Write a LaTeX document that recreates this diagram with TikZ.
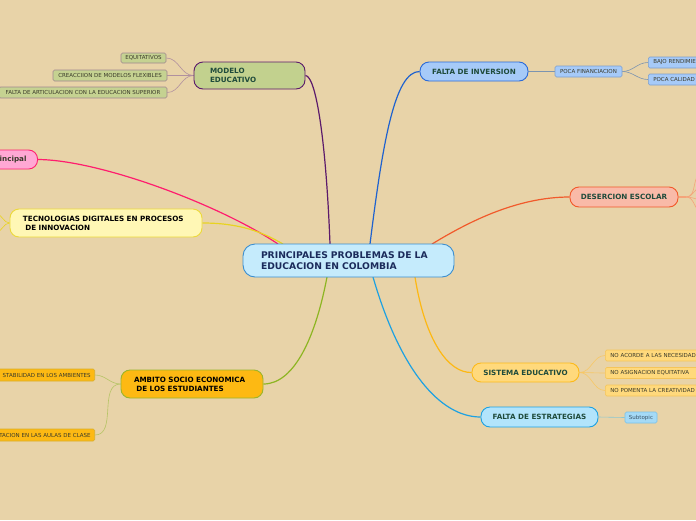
\documentclass[tikz,border=0pt]{standalone}
\usepackage{fontspec}
\setmainfont{DejaVu Sans}
\definecolor{bg}{HTML}{E8D3A8}
\definecolor{tgreen}{HTML}{1F4B3B}
\definecolor{tnavy}{HTML}{1B2B5B}
\definecolor{subtext}{HTML}{3A3A2A}
\definecolor{cfill}{HTML}{C5EBFC}\definecolor{cdraw}{HTML}{3B8ED0}
\definecolor{mfill}{HTML}{C2D18E}\definecolor{mdraw}{HTML}{5B1A6B}
\definecolor{msfill}{HTML}{C5D291}\definecolor{msdraw}{HTML}{A08890}\definecolor{msline}{HTML}{B0909F}
\definecolor{ifill}{HTML}{A6CAF8}\definecolor{idraw}{HTML}{2A6AD8}\definecolor{iline}{HTML}{1F62CF}
\definecolor{isdraw}{HTML}{7E9FCB}\definecolor{isline}{HTML}{7C94B0}
\definecolor{pfill}{HTML}{FFA8D4}\definecolor{pdraw}{HTML}{FF2070}\definecolor{pline}{HTML}{FF1D6E}
\definecolor{tfill}{HTML}{FFF7B5}\definecolor{tdraw}{HTML}{ECD93A}\definecolor{tline}{HTML}{E8D321}
\definecolor{dfill}{HTML}{F9BAA8}\definecolor{ddraw}{HTML}{F2592A}\definecolor{dline}{HTML}{F15A2B}\definecolor{dsline}{HTML}{F5A47A}
\definecolor{afill}{HTML}{FDB913}\definecolor{adraw}{HTML}{9BB52A}\definecolor{aline}{HTML}{8DB522}
\definecolor{asdraw}{HTML}{D8AF2A}\definecolor{asline}{HTML}{B6C466}
\definecolor{sfill}{HTML}{FFD97C}\definecolor{sdraw}{HTML}{FDBA1A}\definecolor{sline}{HTML}{FDB813}
\definecolor{ssdraw}{HTML}{F5C559}\definecolor{ssline}{HTML}{F7C766}
\definecolor{efill}{HTML}{B2E4FB}\definecolor{edraw}{HTML}{1DA1E2}\definecolor{eline}{HTML}{1DA1E2}
\definecolor{esfill}{HTML}{A5DAF6}\definecolor{esdraw}{HTML}{78C1E8}\definecolor{esline}{HTML}{8CC8D0}
\definecolor{esttext}{HTML}{3A5468}
\pgfdeclarelayer{back}
\pgfdeclarelayer{lines}
\pgfsetlayers{back,lines,main}
\begin{document}
\begin{tikzpicture}[x=1pt,y=-1pt,
  topic/.style={rounded corners=9pt, line width=0.9pt, font=\bfseries\fontsize{7.2}{9}\selectfont, text=tgreen, inner sep=0pt, align=center},
  subnode/.style={rounded corners=1.5pt, line width=0.6pt, font=\fontsize{5.5}{6}\selectfont, text=subtext, inner sep=0pt, align=center},
  conn/.style={line width=1.2pt},
  subconn/.style={line width=0.6pt}]
\useasboundingbox (0,0) rectangle (696,520);
\begin{pgfonlayer}{back}
\fill[bg] (0,0) rectangle (696,520);
\end{pgfonlayer}
\clip (0,0) rectangle (696,520);

% central topic
\node[rounded corners=12pt, line width=0.9pt, draw=cdraw, fill=cfill, text=tnavy,
  font=\bfseries\fontsize{9.2}{11}\selectfont, align=left, text width=175pt, inner xsep=18pt, inner ysep=0pt,
  minimum height=33pt] (c) at (348.5,260.5) {PRINCIPALES PROBLEMAS DE LA\\EDUCACION EN COLOMBIA};

% main topics
\node[topic, draw=mdraw, fill=mfill, align=left, text width=79pt, inner xsep=16pt, minimum height=27pt] (m) at (249.5,75.5) {MODELO\\EDUCATIVO};
\node[topic, draw=idraw, fill=ifill, minimum width=108pt, minimum height=19pt] (inv) at (474,71.5) {FALTA DE INVERSION};
\node[topic, draw=pdraw, fill=pfill, text=subtext, anchor=east, align=right, text width=60pt, inner xsep=11pt, minimum height=19pt] (pk) at (38,159.5) {rincipal};
\node[topic, draw=tdraw, fill=tfill, text=black, align=left, text width=166pt, inner xsep=13pt, minimum height=28pt] (t) at (106,223) {TECNOLOGIAS DIGITALES EN PROCESOS\\\ DE INNOVACION};
\node[topic, draw=ddraw, fill=dfill, minimum width=108pt, minimum height=20pt] (d) at (624,197) {DESERCION ESCOLAR};
\node[topic, draw=adraw, fill=afill, text=black, align=left, text width=116pt, inner xsep=13pt, minimum height=28pt] (a) at (192,384) {AMBITO SOCIO ECONOMICA\\\ DE LOS ESTUDIANTES};
\node[topic, draw=sdraw, fill=sfill, minimum width=107pt, minimum height=19pt] (s) at (525.5,372.5) {SISTEMA EDUCATIVO};
\node[topic, draw=edraw, fill=efill, minimum width=117pt, minimum height=20pt] (e) at (539.5,417) {FALTA DE ESTRATEGIAS};

% subtopics
\node[subnode, draw=msdraw, fill=msfill, minimum width=45pt, minimum height=10pt] (m1) at (143.5,58) {EQUITATIVOS};
\node[subnode, draw=msdraw, fill=msfill, minimum width=114pt, minimum height=11pt] (m2) at (110,75.5) {CREACCIION DE MODELOS FLEXIBLES};
\node[subnode, draw=msdraw, fill=msfill, minimum width=168pt, minimum height=11pt] (m3) at (83,92.5) {FALTA DE ARTICULACION CON LA EDUCACION SUPERIOR};

\node[subnode, draw=isdraw, fill=ifill, minimum width=67pt, minimum height=11pt] (i1) at (588.5,71.5) {POCA FINANCIACION};
\node[subnode, draw=isdraw, fill=ifill, anchor=west, align=left, text width=80pt, inner xsep=5pt, minimum height=11pt] (i2) at (648,62.5) {BAJO RENDIMIE};
\node[subnode, draw=isdraw, fill=ifill, anchor=west, align=left, text width=80pt, inner xsep=5pt, minimum height=11pt] (i3) at (648,79.5) {POCA CALIDAD};

\node[subnode, draw=asdraw, fill=afill, anchor=east, align=right, text width=130pt, inner xsep=4pt, minimum height=12pt] (a1) at (95,375) {STABILIDAD EN LOS AMBIENTES};
\node[subnode, draw=asdraw, fill=afill, anchor=east, align=right, text width=130pt, inner xsep=4pt, minimum height=12pt] (a2) at (95,435) {TACION EN LAS AULAS DE CLASE};

\node[subnode, draw=ssdraw, fill=sfill, anchor=west, align=left, text width=120pt, inner xsep=5pt, minimum height=11pt] (s1) at (605,355.5) {NO ACORDE A LAS NECESIDAD};
\node[subnode, draw=ssdraw, fill=sfill, anchor=west, align=left, text width=120pt, inner xsep=5pt, minimum height=11pt] (s2) at (605,373) {NO ASIGNACION EQUITATIVA};
\node[subnode, draw=ssdraw, fill=sfill, anchor=west, align=left, text width=120pt, inner xsep=5pt, minimum height=11pt] (s3) at (605,390.5) {NO POMENTA LA CREATIVIDAD};

\node[subnode, draw=esdraw, fill=esfill, text=esttext, minimum width=32pt, minimum height=11pt] (e1) at (641,417.5) {Subtopic};

% attachment coordinates
\coordinate (cM) at (330,244);
\coordinate (cI) at (370,244);
\coordinate (cP) at (278,244);
\coordinate (cT) at (283,244);
\coordinate (cD) at (432,244);
\coordinate (cA) at (327,277);
\coordinate (cS) at (415,277);
\coordinate (cE) at (373,277);
\coordinate (tL1) at (-4,214);
\coordinate (tL2) at (-4,232);
\coordinate (dJ) at (686,197);
\coordinate (dR1) at (702,172);
\coordinate (dR2) at (702,186);
\coordinate (dR3) at (702,200);
\coordinate (dR4) at (702,213);

\begin{pgfonlayer}{lines}
\draw[conn, mdraw] (cM) .. controls (326,140) and (316,76) .. (m.east);
\draw[conn, iline] (cI) .. controls (383,140) and (395,71.5) .. (inv.west);
\draw[conn, pline] (pk.east) .. controls (100,160) and (220,205) .. (cP);
\draw[conn, tline] (t.east) .. controls (240,223) and (262,232) .. (cT);
\draw[conn, dline] (cD) .. controls (465,224) and (515,197) .. (d.west);
\draw[conn, aline] (cA) .. controls (316,335) and (295,384) .. (a.east);
\draw[conn, sline] (cS) .. controls (425,340) and (448,373) .. (s.west);
\draw[conn, eline] (cE) .. controls (400,370) and (440,417) .. (e.west);

\draw[subconn, msline] (m.west) to[out=180,in=0] (m1.east);
\draw[subconn, msline] (m.west) to[out=180,in=0] (m2.east);
\draw[subconn, msline] (m.west) to[out=180,in=0] (m3.east);
\draw[subconn, isline] (inv.east) -- (i1.west);
\draw[subconn, isline] (i1.east) to[out=0,in=180] (i2.west);
\draw[subconn, isline] (i1.east) to[out=0,in=180] (i3.west);
\draw[subconn, tline] (t.west) to[out=180,in=0] (tL1);
\draw[subconn, tline] (t.west) to[out=180,in=0] (tL2);
\draw[line width=1.2pt, dsline] (d.east) -- (dJ);
\draw[subconn, dsline] (dJ) to[out=0,in=200] (dR1);
\draw[subconn, dsline] (dJ) to[out=0,in=190] (dR2);
\draw[subconn, dsline] (dJ) to[out=0,in=175] (dR3);
\draw[subconn, dsline] (dJ) to[out=0,in=160] (dR4);
\draw[subconn, asline] (a.west) to[out=180,in=0] (a1.east);
\draw[subconn, asline] (a.west) to[out=180,in=0] (a2.east);
\draw[subconn, ssline] (s.east) to[out=0,in=180] (s1.west);
\draw[subconn, ssline] (s.east) to[out=0,in=180] (s2.west);
\draw[subconn, ssline] (s.east) to[out=0,in=180] (s3.west);
\draw[subconn, esline] (e.east) -- (e1.west);
\end{pgfonlayer}
\end{tikzpicture}
\end{document}
